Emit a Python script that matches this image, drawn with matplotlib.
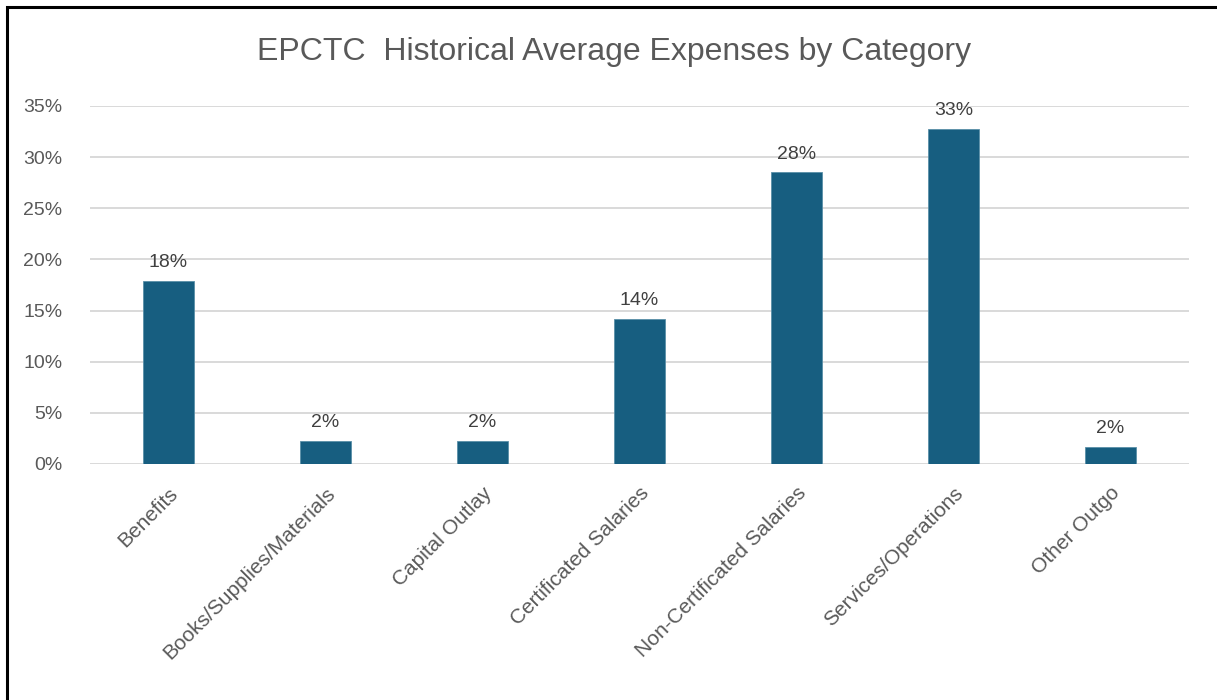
import matplotlib
matplotlib.use('Agg')
import matplotlib.pyplot as plt
from matplotlib.patches import Rectangle
from matplotlib.ticker import FuncFormatter

# data
categories = ['Benefits', 'Books/Supplies/Materials', 'Capital Outlay',
              'Certificated Salaries', 'Non-Certificated Salaries',
              'Services/Operations', 'Other Outgo']
shares = [17.9, 2.25, 2.25, 14.2, 28.5, 32.8, 1.7]
yticks = [0, 5, 10, 15, 20, 25, 30, 35]

plt.rcParams['font.family'] = ['Liberation Sans', 'DejaVu Sans']

W, H = 1217, 700
fig = plt.figure(figsize=(W / 100, H / 100), dpi=100, facecolor='white')
ax = fig.add_axes([90 / W, 1 - 464 / H, 1099 / W, 358 / H])

x = range(len(categories))
ax.bar(x, shares, width=0.32, color='#175e80', edgecolor='#5a8fa8', linewidth=0.6, zorder=3)
for xi, v in zip(x, shares):
    ax.annotate(f'{round(v):.0f}%', (xi, v), xytext=(0, 7), textcoords='offset points',
                ha='center', va='bottom', fontsize=14, color='#404040', zorder=4)

ax.set_xlim(-0.5, len(categories) - 0.5)
ax.set_ylim(0, 35)
ax.set_yticks(yticks)
ax.yaxis.set_major_formatter(FuncFormatter(lambda v, p: f'{v:.0f}%'))
ax.grid(axis='y', color='#d9d9d9', linewidth=1.4, zorder=0)
ax.set_xticks(list(x))
ax.set_xticklabels(categories, rotation=45, ha='right', rotation_mode='anchor')
for s in ax.spines.values():
    s.set_visible(False)
ax.tick_params(axis='both', length=0, labelcolor='#595959')
ax.tick_params(axis='y', labelsize=14, pad=20)
ax.tick_params(axis='x', labelsize=15, pad=14)

fig.text(614 / W, 1 - 52 / H, 'EPCTC  Historical Average Expenses by Category',
         ha='center', va='center', fontsize=23, color='#595959')

# outer chart border (cut off at right and bottom)
fig.patches.append(Rectangle((7 / W, -0.05), 1.1, 1 - 7 / H + 0.05, transform=fig.transFigure,
                             fill=False, edgecolor='black', linewidth=2.2))

fig.savefig('out.png', dpi=100, facecolor='white')
